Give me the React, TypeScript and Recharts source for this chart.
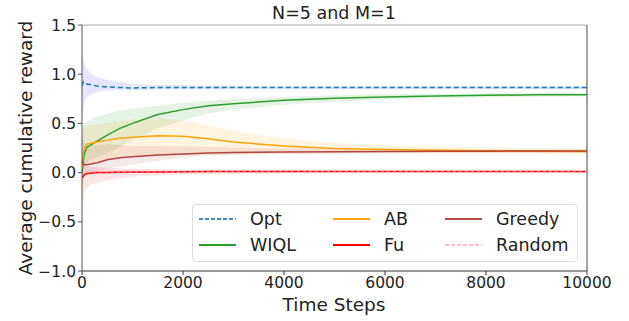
import { ComposedChart, Line, Area, XAxis, YAxis, ReferenceLine } from 'recharts';

const steps = [0, 25, 50, 100, 200, 300, 500, 750, 1000, 1500, 2000, 2500, 3000, 4000, 5000, 6000, 7000, 8000, 9000, 10000];

const opt = [0.88, 0.92, 0.9, 0.9, 0.89, 0.88, 0.87, 0.865, 0.86, 0.865, 0.865, 0.865, 0.865, 0.865, 0.865, 0.865, 0.865, 0.865, 0.865, 0.865];
const optLo = [0.5, 0.65, 0.72, 0.77, 0.8, 0.82, 0.835, 0.84, 0.84, 0.845, 0.845, 0.845, 0.848, 0.85, 0.85, 0.85, 0.85, 0.85, 0.85, 0.85];
const optHi = [1.2, 1.15, 1.1, 1.05, 1.0, 0.97, 0.94, 0.92, 0.9, 0.89, 0.89, 0.885, 0.885, 0.882, 0.88, 0.88, 0.88, 0.88, 0.88, 0.88];

const wiql = [0.0, 0.12, 0.2, 0.26, 0.29, 0.32, 0.38, 0.45, 0.5, 0.59, 0.64, 0.68, 0.7, 0.735, 0.755, 0.768, 0.778, 0.785, 0.79, 0.792];
const wiqlLo = [-0.1, 0.0, 0.05, 0.1, 0.14, 0.16, 0.2, 0.26, 0.33, 0.45, 0.53, 0.6, 0.64, 0.69, 0.72, 0.74, 0.755, 0.765, 0.77, 0.775];
const wiqlHi = [0.45, 0.48, 0.5, 0.52, 0.55, 0.57, 0.6, 0.63, 0.65, 0.68, 0.71, 0.73, 0.75, 0.77, 0.785, 0.795, 0.8, 0.805, 0.81, 0.81];

const ab = [0.05, 0.2, 0.26, 0.29, 0.3, 0.31, 0.33, 0.35, 0.36, 0.375, 0.37, 0.345, 0.31, 0.27, 0.245, 0.235, 0.228, 0.222, 0.218, 0.215];
const abLo = [-0.3, 0.0, 0.05, 0.08, 0.1, 0.11, 0.13, 0.15, 0.16, 0.17, 0.18, 0.185, 0.19, 0.195, 0.195, 0.195, 0.195, 0.195, 0.195, 0.195];
const abHi = [0.45, 0.45, 0.46, 0.47, 0.48, 0.49, 0.5, 0.52, 0.54, 0.55, 0.53, 0.48, 0.42, 0.35, 0.3, 0.28, 0.265, 0.255, 0.25, 0.245];

const fu = [-0.05, -0.04, -0.02, -0.01, -0.005, 0.0, 0.0, 0.003, 0.005, 0.006, 0.008, 0.01, 0.01, 0.01, 0.01, 0.01, 0.01, 0.01, 0.01, 0.01];
const fuLo = [-0.55, -0.3, -0.2, -0.15, -0.12, -0.1, -0.08, -0.06, -0.04, -0.03, -0.02, -0.015, -0.01, -0.005, 0.0, 0.0, 0.0, 0.0, 0.0, 0.0];
const fuHi = [0.15, 0.1, 0.08, 0.07, 0.06, 0.055, 0.05, 0.045, 0.04, 0.035, 0.03, 0.03, 0.025, 0.025, 0.02, 0.02, 0.02, 0.02, 0.02, 0.02];

const greedy = [0.12, 0.09, 0.08, 0.08, 0.09, 0.1, 0.13, 0.15, 0.16, 0.18, 0.19, 0.2, 0.205, 0.21, 0.212, 0.215, 0.217, 0.218, 0.22, 0.22];
const greedyLo = [-0.15, -0.05, -0.02, 0.0, 0.01, 0.02, 0.04, 0.06, 0.08, 0.12, 0.15, 0.17, 0.18, 0.19, 0.195, 0.2, 0.2, 0.2, 0.2, 0.2];
const greedyHi = [0.4, 0.32, 0.3, 0.29, 0.28, 0.28, 0.29, 0.28, 0.27, 0.27, 0.265, 0.26, 0.255, 0.245, 0.24, 0.238, 0.236, 0.235, 0.235, 0.235];

const random = [0.0, -0.01, 0.0, 0.0, 0.005, 0.005, 0.006, 0.008, 0.01, 0.01, 0.01, 0.01, 0.012, 0.012, 0.012, 0.012, 0.012, 0.012, 0.012, 0.012];
const randomLo = [-0.1, -0.06, -0.04, -0.03, -0.02, -0.015, -0.01, -0.005, -0.002, 0.0, 0.0, 0.002, 0.003, 0.004, 0.005, 0.005, 0.005, 0.005, 0.005, 0.005];
const randomHi = [0.1, 0.06, 0.05, 0.04, 0.035, 0.03, 0.028, 0.026, 0.025, 0.024, 0.023, 0.022, 0.022, 0.021, 0.02, 0.02, 0.02, 0.02, 0.02, 0.02];

const xTicks = [0, 2000, 4000, 6000, 8000, 10000];
const yTicks = [-1, -0.5, 0, 0.5, 1, 1.5];

const data = steps.map((t, i) => ({
  t,
  opt: opt[i], optBand: [optLo[i], optHi[i]],
  wiql: wiql[i], wiqlBand: [wiqlLo[i], wiqlHi[i]],
  ab: ab[i], abBand: [abLo[i], abHi[i]],
  fu: fu[i], fuBand: [fuLo[i], fuHi[i]],
  greedy: greedy[i], greedyBand: [greedyLo[i], greedyHi[i]],
  random: random[i], randomBand: [randomLo[i], randomHi[i]],
}));

const font = '"DejaVu Sans", sans-serif';

const legendItems = [
  { name: 'Opt', color: '#1f77b4', dash: '4 2', col: 0, row: 0, op: 0.85 },
  { name: 'WIQL', color: '#2ca02c', dash: undefined, col: 0, row: 1, op: 1 },
  { name: 'AB', color: '#ffa500', dash: undefined, col: 1, row: 0, op: 1 },
  { name: 'Fu', color: '#ff0000', dash: undefined, col: 1, row: 1, op: 1 },
  { name: 'Greedy', color: '#a52a2a', dash: undefined, col: 2, row: 0, op: 0.85 },
  { name: 'Random', color: '#ffc0cb', dash: '4 2', col: 2, row: 1, op: 1 },
];
const colX = [0, 134, 246];

const fmtY = (v: number) => (v < 0 ? '\u2212' + Math.abs(v).toFixed(1) : v.toFixed(1));

export default function App() {
  return (
    <div style={{ position: 'absolute', left: 0, top: 0, width: 629, height: 321, background: '#fff', fontFamily: font }}>
      <ComposedChart width={629} height={321} data={data} margin={{ top: 25, right: 42, bottom: 0, left: 0 }}>
        <XAxis dataKey="t" type="number" domain={[0, 10000]} ticks={xTicks} allowDataOverflow
          tick={{ fill: '#222', fontSize: 15.5, fontFamily: font }} tickSize={4} stroke="#333" height={50} />
        <YAxis type="number" domain={[-1, 1.5]} ticks={yTicks} allowDataOverflow tickFormatter={fmtY}
          tick={{ fill: '#222', fontSize: 15.5, fontFamily: font }} tickSize={4} stroke="#555" width={82} />
        <ReferenceLine y={1.5} stroke="#aaa" strokeWidth={1} />
        <ReferenceLine x={10000} stroke="#444" strokeWidth={1} />
        <Area dataKey="optBand" stroke="none" fill="#0000ff" fillOpacity={0.1} isAnimationActive={false} />
        <Area dataKey="wiqlBand" stroke="none" fill="#2ca02c" fillOpacity={0.12} isAnimationActive={false} />
        <Area dataKey="abBand" stroke="none" fill="#ffa500" fillOpacity={0.12} isAnimationActive={false} />
        <Area dataKey="greedyBand" stroke="none" fill="#a52a2a" fillOpacity={0.1} isAnimationActive={false} />
        <Area dataKey="fuBand" stroke="none" fill="#ff0000" fillOpacity={0.1} isAnimationActive={false} />
        <Area dataKey="randomBand" stroke="none" fill="#ffc0cb" fillOpacity={0.4} isAnimationActive={false} />
        <Line dataKey="opt" stroke="#1f77b4" strokeWidth={1.5} strokeDasharray="5 3" dot={false} isAnimationActive={false} />
        <Line dataKey="wiql" stroke="#2ca02c" strokeWidth={1.5} dot={false} isAnimationActive={false} />
        <Line dataKey="ab" stroke="#ffa500" strokeWidth={1.5} dot={false} isAnimationActive={false} />
        <Line dataKey="fu" stroke="#ff0000" strokeWidth={1.5} dot={false} isAnimationActive={false} />
        <Line dataKey="greedy" stroke="#a52a2a" strokeWidth={1.5} strokeOpacity={0.85} dot={false} isAnimationActive={false} />
        <Line dataKey="random" stroke="#ff8fa0" strokeWidth={1.5} strokeDasharray="2 4" dot={false} isAnimationActive={false} />
        <text x={334} y={19} textAnchor="middle" style={{ fill: '#222', fontSize: 17.5, fontFamily: font }}>N=5 and M=1</text>
        <text x={334} y={311} textAnchor="middle" style={{ fill: '#222', fontSize: 18.5, fontFamily: font }}>Time Steps</text>
        <text x={0} y={0} transform="translate(32,148) rotate(-90)" textAnchor="middle" style={{ fill: '#222', fontSize: 18.5, fontFamily: font }}>Average cumulative reward</text>
      </ComposedChart>
      <div style={{ position: 'absolute', left: 192, top: 204, width: 386, height: 58, border: '1px solid #ddd', borderRadius: 4, background: 'rgba(255,255,255,0.8)', boxSizing: 'border-box' }}>
        <svg width={386} height={58} style={{ position: 'absolute', left: 0, top: 0 }}>
          {legendItems.map((it) => {
            const x0 = 6 + colX[it.col];
            const y0 = 14 + it.row * 26;
            return (
              <g key={it.name}>
                <line x1={x0} x2={x0 + 37} y1={y0} y2={y0} stroke={it.color} strokeWidth={1.8} strokeDasharray={it.dash} strokeOpacity={it.op} />
                <text x={x0 + 51} y={y0 + 6} style={{ fill: '#222', fontSize: 17.5, fontFamily: font }}>{it.name}</text>
              </g>
            );
          })}
        </svg>
      </div>
    </div>
  );
}
